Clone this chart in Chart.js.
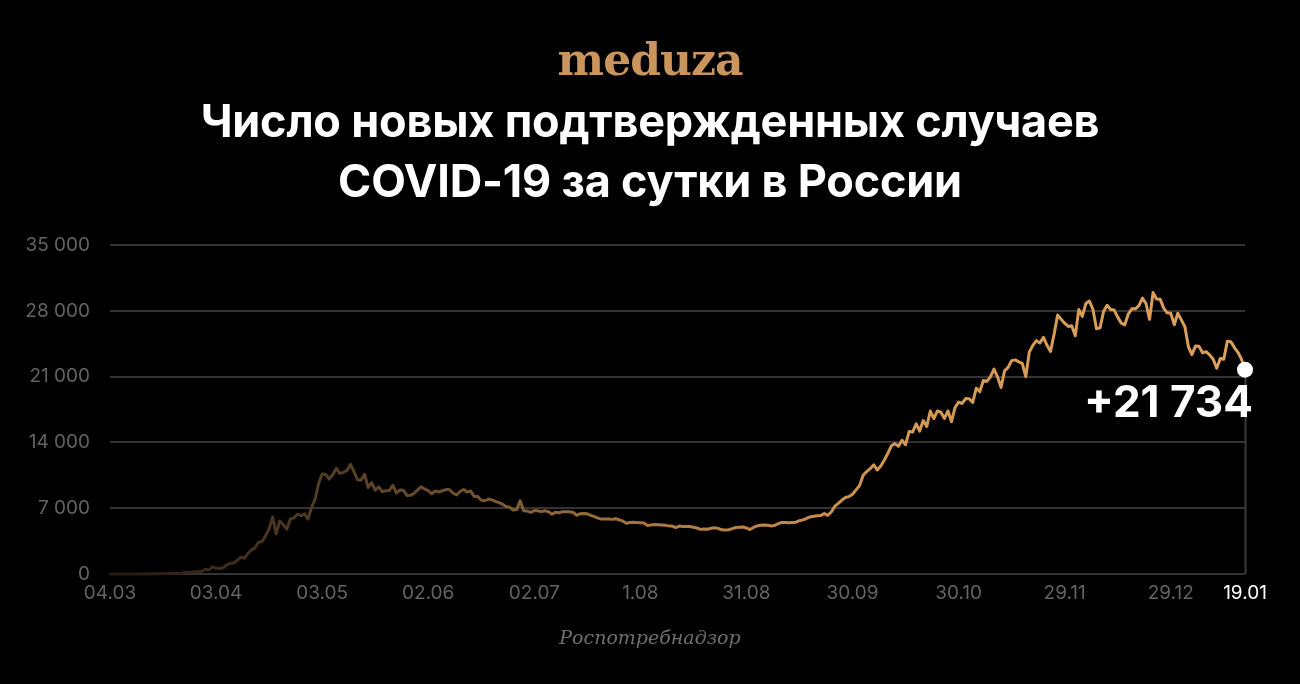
<!DOCTYPE html>
<html lang="ru">
<head>
<meta charset="utf-8">
<script src="https://cdn.jsdelivr.net/npm/chart.js@4/dist/chart.umd.min.js"></script>
<style>
  html, body { margin: 0; padding: 0; background: #000; }
  #wrap { position: relative; width: 1300px; height: 684px; overflow: hidden; background: #000; }
  #c { position: absolute; left: 0; top: 0; }
  .logo { position: absolute; left: 0; width: 1300px; top: 34px; text-align: center;
          font-family: "DejaVu Serif", serif; font-weight: bold; font-size: 44px; color: #c9955c; letter-spacing: -1px; }
  .title { position: absolute; left: 0; width: 1300px; top: 91px; text-align: center;
           font-family: Inter, "Open Sans", sans-serif; font-weight: 700; font-size: 45px; line-height: 60px; color: #fff; letter-spacing: -0.2px; }
  .source { position: absolute; left: 0; width: 1300px; top: 626px; text-align: center;
            font-family: "DejaVu Serif", serif; font-style: italic; font-size: 19px; color: #6e6e6e; }
</style>
</head>
<body>
<div id="wrap">
  <canvas id="c" width="1300" height="684"></canvas>
  <div class="logo">meduza</div>
  <div class="title">Число новых подтвержденных случаев<br>COVID-19 за сутки в России</div>
  <div class="source">Роспотребнадзор</div>
</div>
<script>
// ---- DATA (daily new cases, starting 04.03.2020) ----
const startDate = '2020-03-04';
const mar = [0,1,6,1,3,0,3,8,6,11,14,4,30,21,33,52,54,53,61,71,57,163,182,196,228,270,302,501];
const apr = [440,771,601,582,658,954,1154,1175,1459,1786,1667,2186,2558,2774,3388,3448,4070,4785,6060,4268,5642,5236,4774,5849,5966,6361,6198,6411,5841,7099];
const may = [7933,9623,10633,10581,10102,10559,11231,10699,10817,11012,11656,10899,10028,9974,10598,9200,9709,8926,9263,8764,8849,8894,9434,8599,8946,8915,8338,8371,8572,8952,9268];
const jun = [9035,8863,8536,8831,8726,8855,8984,8985,8595,8404,8779,8987,8706,8835,8246,8248,7843,7790,7972,7889,7728,7600,7425,7176,7113,6800,6852,7800,6719,6693];
const jul = [6556,6760,6718,6632,6736,6611,6368,6562,6509,6635,6611,6615,6537,6248,6422,6428,6406,6234,6109,5940,5842,5862,5848,5811,5871,5765,5635,5395,5475,5509,5482];
const aug = [5462,5427,5159,5204,5267,5241,5212,5189,5118,5102,4945,5102,5057,5065,5061,4969,4892,4748,4790,4767,4870,4921,4852,4696,4676,4711,4829,4941,4980,4993,4897];
const sep = [4729,4952,5110,5185,5205,5195,5099,5172,5363,5475,5488,5449,5488,5509,5670,5762,5905,6065,6148,6196,6215,6431,6234,6595,7212,7523,7867,8135,8232,8481];
const oct = [8945,9412,10499,10888,11200,11615,11060,11493,12126,12846,13634,13868,13592,14231,13754,15150,15099,15982,15205,16319,15700,17340,16521,17347,17205,16550,17347,16202,17717,18283,18140];
const nov = [18665,18648,18257,19768,19404,20582,20498,20977,21798,20977,19851,21608,21983,22702,22778,22572,22410,20985,23610,24318,24822,24581,25173,24326,23675,25487,27543,27100,26683,26338];
const dec = [26402,25345,28145,27403,28782,29039,28142,26097,26190,27927,28585,28137,28080,27328,26689,26509,27656,28214,28209,28552,29350,28776,27084,29935,29258,29240,28284,27787,27747,26513,27747];
const jan = [27039,26301,24150,23351,24246,24217,23541,23652,23309,22851,21890,22934,22850,24763,24715,24092,23586,22857,21734];

const tickDates  = ['2020-03-04','2020-04-03','2020-05-03','2020-06-02','2020-07-02','2020-08-01','2020-08-31','2020-09-30','2020-10-30','2020-11-29','2020-12-29','2021-01-19'];
const tickLabels = ['04.03','03.04','03.05','02.06','02.07','1.08','31.08','30.09','30.10','29.11','29.12','19.01'];
const yTicks = [0, 7000, 14000, 21000, 28000, 35000];
const lastLabel = '+21 734';

// ---- build ----
const values = [].concat(mar, apr, may, jun, jul, aug, sep, oct, nov, dec, jan);
const dayMs = 86400000;
const t0 = Date.parse(startDate + 'T00:00:00Z');
const dayOf = d => Math.round((Date.parse(d + 'T00:00:00Z') - t0) / dayMs);
const tickDays = tickDates.map(dayOf);
const points = values.map((v, i) => ({ x: i, y: v }));
const lastIdx = values.length - 1;

function fmt(n) { return String(n).replace(/\B(?=(\d{3})+(?!\d))/g, ' '); }

const extras = {
  id: 'extras',
  beforeDatasetsDraw(chart) {
    const { ctx, scales: { x, y } } = chart;
    const px = x.getPixelForValue(lastIdx);
    const py = y.getPixelForValue(values[lastIdx]);
    ctx.save();
    ctx.strokeStyle = '#3b3b3b';
    ctx.lineWidth = 2;
    ctx.beginPath();
    ctx.moveTo(Math.round(px) + 0.5, y.getPixelForValue(0));
    ctx.lineTo(Math.round(px) + 0.5, py);
    ctx.stroke();
    ctx.restore();
  },
  afterDatasetsDraw(chart) {
    const { ctx, scales: { x, y } } = chart;
    const px = x.getPixelForValue(lastIdx);
    const py = y.getPixelForValue(values[lastIdx]);
    ctx.save();
    ctx.fillStyle = '#fff';
    ctx.font = '700 44px Inter, "Open Sans", sans-serif';
    ctx.textAlign = 'right';
    ctx.textBaseline = 'alphabetic';
    ctx.fillText(lastLabel, px + 8, py + 47);
    ctx.restore();
  }
};

function lineGradient(context) {
  const chart = context.chart;
  const { ctx, chartArea } = chart;
  if (!chartArea) return '#d49a58';
  const g = ctx.createLinearGradient(chartArea.left, 0, chartArea.right, 0);
  g.addColorStop(0, '#221910');
  g.addColorStop(0.15, '#4a3620');
  g.addColorStop(0.3, '#6d4f2e');
  g.addColorStop(0.5, '#b07c44');
  g.addColorStop(0.7, '#d39852');
  g.addColorStop(1, '#dca05c');
  return g;
}

new Chart(document.getElementById('c'), {
  type: 'line',
  data: {
    datasets: [{
      data: points,
      borderColor: lineGradient,
      borderWidth: 3,
      tension: 0,
      clip: false,
      pointRadius: ctx => ctx.dataIndex === lastIdx ? 8 : 0,
      pointHoverRadius: ctx => ctx.dataIndex === lastIdx ? 8 : 0,
      pointBackgroundColor: '#fff',
      pointBorderWidth: 0,
      borderJoinStyle: 'round',
      borderCapStyle: 'round'
    }]
  },
  options: {
    responsive: false,
    animation: false,
    events: [],
    layout: { padding: { left: 0, right: 55, top: 245, bottom: 0 } },
    plugins: { legend: { display: false }, tooltip: { enabled: false }, title: { display: false } },
    scales: {
      x: {
        type: 'linear',
        min: 0,
        max: lastIdx,
        afterBuildTicks: s => { s.ticks = tickDays.map(v => ({ value: v })); },
        afterFit: s => { s.height = 110; },
        grid: { display: false, drawTicks: false },
        border: { display: false },
        ticks: {
          autoSkip: false,
          maxRotation: 0,
          padding: 8,
          color: c => c.index === tickDays.length - 1 ? '#ffffff' : '#636363',
          font: { family: 'Inter, "Open Sans", sans-serif', size: 19 },
          callback: v => { const k = tickDays.indexOf(v); return k >= 0 ? tickLabels[k] : ''; }
        }
      },
      y: {
        min: 0,
        max: 35000,
        afterBuildTicks: s => { s.ticks = yTicks.map(v => ({ value: v })); },
        afterFit: s => { s.width = 110; },
        grid: { color: '#333333', lineWidth: 2, drawTicks: false },
        border: { display: false },
        ticks: {
          padding: 20,
          color: '#636363',
          font: { family: 'Inter, "Open Sans", sans-serif', size: 19 },
          callback: v => fmt(v)
        }
      }
    }
  },
  plugins: [extras]
});
</script>
</body>
</html>
